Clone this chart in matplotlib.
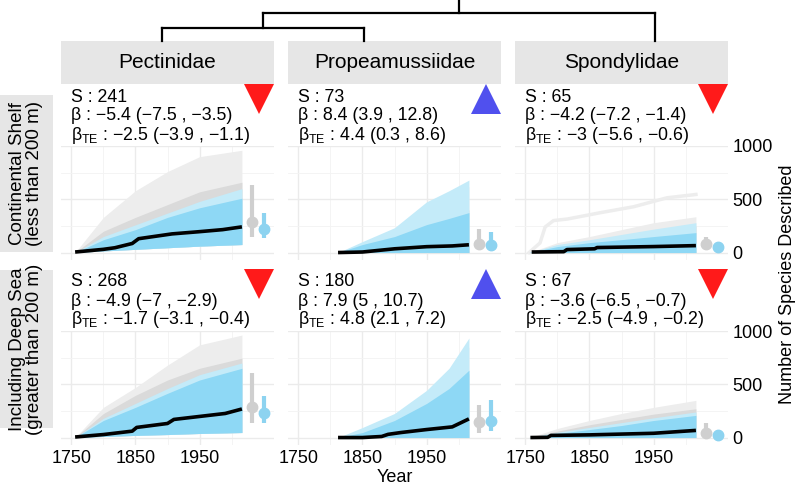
import matplotlib
matplotlib.use("Agg")
import matplotlib.pyplot as plt
from matplotlib.lines import Line2D
from matplotlib.patches import Rectangle

plt.rcParams['font.family'] = ['Liberation Sans', 'DejaVu Sans']
plt.rcParams['mathtext.fontset'] = 'custom'
plt.rcParams['mathtext.rm'] = 'Liberation Sans'

# ---------------- data ----------------
families = ["Pectinidae", "Propeamussiidae", "Spondylidae"]
habitats = ["Continental Shelf\n(less than 200 m)", "Including Deep Sea\n(greater than 200 m)"]
S_vals = [[241, 73, 65], [268, 180, 67]]
beta_est = [[-5.4, 8.4, -4.2], [-4.9, 7.9, -3.6]]
beta_lo = [[-7.5, 3.9, -7.2], [-7, 5, -6.5]]
beta_hi = [[-3.5, 12.8, -1.4], [-2.9, 10.7, -0.7]]
bte_est = [[-2.5, 4.4, -3], [-1.7, 4.8, -2.5]]
bte_lo = [[-3.9, 0.3, -5.6], [-3.1, 2.1, -4.9]]
bte_hi = [[-1.1, 8.6, -0.6], [-0.4, 7.2, -0.2]]

x_ticks = [1750, 1850, 1950]
y_ticks = [0, 500, 1000]

# envelopes of the simulated curves (years and values per panel)
env_years = [
    [[1756, 1800, 1850, 1900, 1950, 2016], [1812, 1850, 1900, 1950, 1985, 2016], [1756, 1800, 1850, 1900, 1950, 2016]],
    [[1756, 1800, 1850, 1900, 1950, 2016], [1812, 1850, 1900, 1950, 1985, 2016], [1756, 1800, 1850, 1900, 1950, 2016]],
]
gray_faint_top = [
    [[0, 330, 580, 760, 900, 960], [0, 90, 200, 400, 520, 620], [0, 93, 150, 215, 280, 336]],
    [[0, 283, 470, 680, 870, 962], [0, 80, 200, 400, 600, 850], [0, 85, 160, 226, 283, 349]],
]
gray_dense_top = [
    [[0, 200, 330, 450, 570, 660], [0, 60, 130, 250, 330, 400], [0, 70, 110, 160, 210, 250]],
    [[0, 225, 396, 540, 650, 745], [0, 60, 150, 300, 420, 600], [0, 60, 120, 170, 220, 270]],
]
blue_faint_top = [
    [[0, 150, 260, 370, 480, 600], [0, 103, 233, 476, 580, 680], [0, 75, 120, 170, 220, 280]],
    [[0, 180, 320, 460, 590, 700], [0, 94, 226, 443, 650, 934], [0, 50, 95, 140, 185, 240]],
]
blue_dense_top = [
    [[0, 120, 215, 330, 420, 510], [0, 75, 150, 262, 320, 375], [0, 56, 93, 121, 150, 187]],
    [[0, 160, 283, 415, 540, 650], [0, 47, 160, 320, 460, 632], [0, 38, 75, 113, 160, 208]],
]
band_bottom = [
    [[0, 15, 30, 45, 60, 75], [0, 0, 0, 0, 0, 0], [0, 0, 0, 0, 0, 0]],
    [[0, 10, 20, 28, 38, 47], [0, 0, 0, 0, 0, 0], [0, 0, 0, 0, 0, 0]],
]
# single outlying grey curve in Spondylidae / shelf
outlier_years = [1756, 1773, 1781, 1794, 1816, 1867, 1919, 1971, 2016]
outlier_vals = [0, 90, 240, 300, 315, 374, 430, 514, 545]

# observed cumulative number of species described
obs_years = [
    [[1756, 1800, 1818, 1845, 1855, 1907, 1948, 1986, 2016],
     [1812, 1850, 1900, 1950, 1990, 2016],
     [1760, 1810, 1815, 1858, 1862, 1950, 2016]],
    [[1756, 1800, 1845, 1852, 1900, 1910, 1950, 1990, 2016],
     [1812, 1850, 1880, 1890, 1910, 1950, 1990, 2016],
     [1758, 1785, 1790, 1850, 1950, 2016]],
]
obs_vals = [
    [[5, 30, 45, 85, 130, 175, 195, 215, 241],
     [0, 5, 35, 55, 62, 73],
     [5, 8, 28, 35, 47, 56, 65]],
    [[5, 28, 60, 95, 132, 170, 198, 226, 268],
     [0, 0, 10, 30, 47, 75, 100, 175],
     [0, 2, 20, 25, 40, 67]],
]

# point ranges (mid, low, high)
gray_pr = [[(290, 150, 635), (84, 37, 224), (84, 56, 150)],
           [(283, 132, 604), (142, 47, 302), (47, 19, 132)]]
blue_pr = [[(225, 140, 375), (75, 37, 196), (56, 45, 70)],
           [(226, 140, 387), (151, 57, 349), (28, 20, 36)]]
pr_year_gray = 2032
pr_year_blue = 2051

# dendrogram (leaf x positions in pixels, merge levels)
dendro_leaf_x = [162, 364, 655]
dendro_leaf_y = 41
dendro_merge_y = [28, 13]

# ---------------- layout ----------------
W, H = 796, 487
fig = plt.figure(figsize=(W / 100, H / 100), dpi=100)


def rect(l, t, w, h):
    return [l / W, 1 - (t + h) / H, w / W, h / H]


def fx(x):
    return x / W


def fy(y):
    return 1 - y / H


col_left = [61, 288, 515]
col_w = 213
row_top = [146, 331]
row_h = 114

C_GRAY_FAINT = "#ededed"
C_GRAY_DENSE = "#dadada"
C_BLUE_FAINT = "#c4ebf9"
C_BLUE_DENSE = "#8ed8f5"
C_PR_GRAY = "#cfcfcf"
C_PR_BLUE = "#8dd3f0"
GRID = "#ebebeb"


def fmt(v):
    return f"{v:g}".replace("-", "\u2212")


for r in range(2):
    for c in range(3):
        ax = fig.add_axes(rect(col_left[c], row_top[r], col_w, row_h))
        ax.set_xlim(1734, 2066)
        ax.set_ylim(-70, 1000)
        for s in ax.spines.values():
            s.set_visible(False)
        for xv in [1750, 1850, 1950]:
            ax.axvline(xv, color=GRID, lw=1.0, zorder=0)
        for xv in [1800, 1900, 2000]:
            ax.axvline(xv, color="#f3f3f3", lw=0.6, zorder=0)
        for yv in [0, 500, 1000]:
            ax.axhline(yv, color=GRID, lw=1.0, zorder=0)
        for yv in [250, 750]:
            ax.axhline(yv, color="#f3f3f3", lw=0.6, zorder=0)

        yrs = env_years[r][c]
        bot = band_bottom[r][c]
        ax.fill_between(yrs, bot, gray_faint_top[r][c], color=C_GRAY_FAINT, lw=0, zorder=1)
        ax.fill_between(yrs, bot, gray_dense_top[r][c], color=C_GRAY_DENSE, lw=0, zorder=1.1)
        if r == 0 and c == 2:
            ax.plot(outlier_years, outlier_vals, color=C_GRAY_FAINT, lw=2.5, zorder=1.05)
        ax.fill_between(yrs, bot, blue_faint_top[r][c], color=C_BLUE_FAINT, lw=0, zorder=1.2)
        ax.fill_between(yrs, bot, blue_dense_top[r][c], color=C_BLUE_DENSE, lw=0, zorder=1.3)

        ax.plot(obs_years[r][c], obs_vals[r][c], color="black", lw=2.6, zorder=3,
                solid_capstyle="butt")

        gm, gl, gh = gray_pr[r][c]
        ax.plot([pr_year_gray, pr_year_gray], [gl, gh], color=C_PR_GRAY, lw=3, zorder=3,
                solid_capstyle="butt")
        ax.plot([pr_year_gray], [gm], "o", color=C_PR_GRAY, ms=7.5, zorder=3)
        bm, bl, bh = blue_pr[r][c]
        ax.plot([pr_year_blue, pr_year_blue], [bl, bh], color=C_PR_BLUE, lw=3, zorder=3,
                solid_capstyle="butt")
        ax.plot([pr_year_blue], [bm], "o", color=C_PR_BLUE, ms=7.5, zorder=3)

        ax.set_xticks(x_ticks)
        ax.set_yticks(y_ticks)
        ax.tick_params(length=0, labelsize=13, colors="black")
        if r == 0:
            ax.set_xticklabels([])
        if c == 2:
            ax.yaxis.tick_right()
            ax.tick_params(axis="y", pad=3)
        else:
            ax.set_yticklabels([])

        # annotations above the panel
        tx = fx(col_left[c] + 10)
        ty0 = row_top[r]
        fig.text(tx, fy(ty0 - 49), f"S : {S_vals[r][c]}", fontsize=12.8, va="center", ha="left")
        fig.text(tx, fy(ty0 - 30),
                 f"\u03b2 : {fmt(beta_est[r][c])} ({fmt(beta_lo[r][c])} , {fmt(beta_hi[r][c])})",
                 fontsize=12.8, va="center", ha="left")
        fig.text(tx, fy(ty0 - 11),
                 "\u03b2$_{\\mathregular{TE}}$ : " +
                 f"{fmt(bte_est[r][c])} ({fmt(bte_lo[r][c])} , {fmt(bte_hi[r][c])})",
                 fontsize=12.8, va="center", ha="left")
        # trend triangle
        up = beta_est[r][c] > 0
        tri_x = col_left[c] + 198
        tri_y = ty0 - 47
        fig.lines.append(Line2D([fx(tri_x)], [fy(tri_y)], transform=fig.transFigure,
                                marker="^" if up else "v", markersize=21, linestyle="none",
                                color="#5050ee" if up else "#ff1a1a", markeredgewidth=0))

# column strips
for c in range(3):
    fig.patches.append(Rectangle((fx(col_left[c]), fy(84)), col_w / W, 43 / H,
                                 transform=fig.transFigure, facecolor="#e6e6e6",
                                 edgecolor="none"))
    fig.text(fx(col_left[c] + col_w / 2), fy(63), families[c], fontsize=15,
             ha="center", va="center")

# row strips
row_strip = [(95, 252), (270, 428)]
for r in range(2):
    t, b = row_strip[r]
    fig.patches.append(Rectangle((0, fy(b)), 53 / W, (b - t) / H,
                                 transform=fig.transFigure, facecolor="#e6e6e6",
                                 edgecolor="none"))
    fig.text(fx(26), fy((t + b) / 2), habitats[r], fontsize=13.5, rotation=90,
             ha="center", va="center", linespacing=1.05, multialignment="center")

# axis titles
fig.text(fx(395), fy(478), "Year", fontsize=13, ha="center", va="center")
fig.text(fx(787), fy(284), "Number of Species Described", fontsize=13, rotation=90,
         ha="center", va="center")

# dendrogram
def seg(x0, y0, x1, y1):
    fig.lines.append(Line2D([fx(x0), fx(x1)], [fy(y0), fy(y1)], transform=fig.transFigure,
                            color="black", lw=1.6, solid_capstyle="projecting"))

x0, x1, x2 = dendro_leaf_x
m1, m2 = dendro_merge_y
mid01 = (x0 + x1) / 2
root = (mid01 + x2) / 2
seg(x0, dendro_leaf_y, x0, m1)
seg(x1, dendro_leaf_y, x1, m1)
seg(x0, m1, x1, m1)
seg(mid01, m1, mid01, m2)
seg(x2, dendro_leaf_y, x2, m2)
seg(mid01, m2, x2, m2)
seg(root, m2, root, 0)

fig.savefig("out.png", dpi=100)
